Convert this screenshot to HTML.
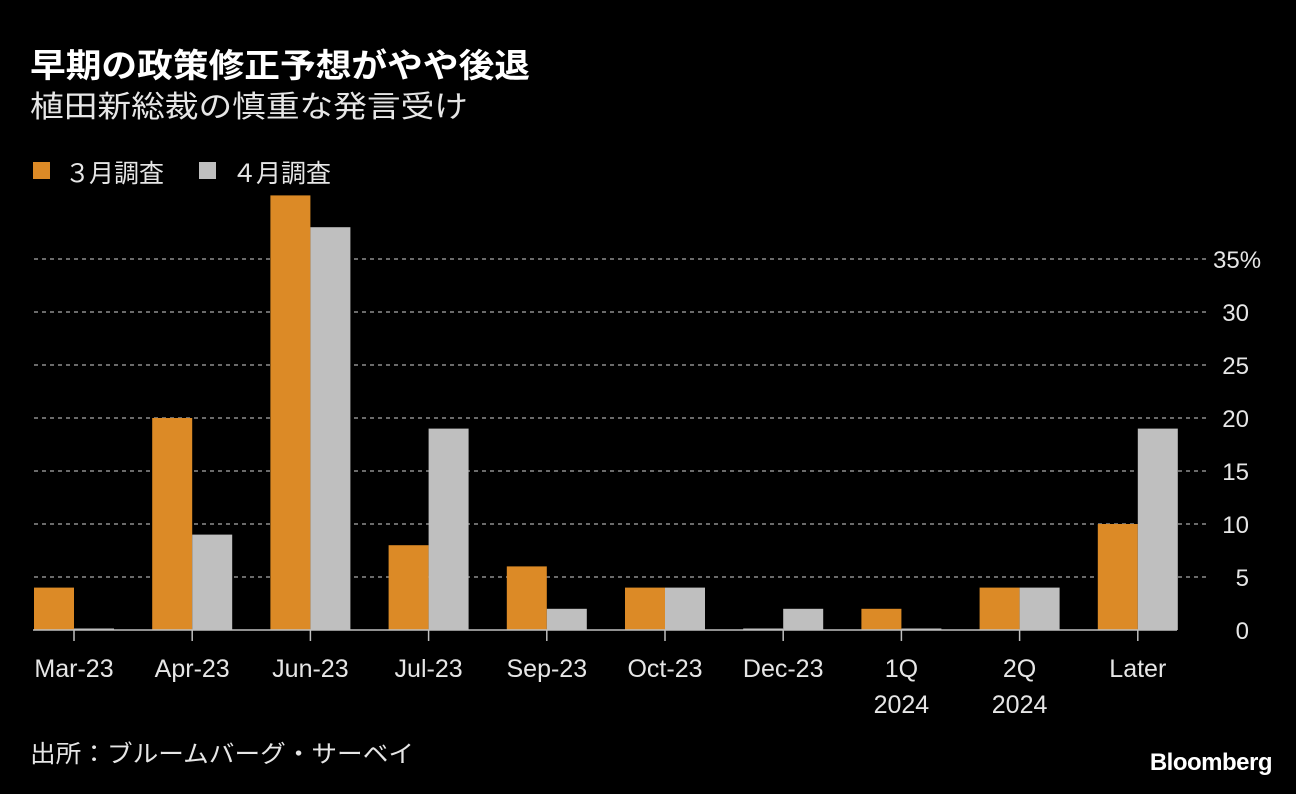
<!DOCTYPE html>
<html><head><meta charset="utf-8"><style>
html,body{margin:0;padding:0;background:#000;width:1296px;height:794px;overflow:hidden}
svg{display:block;font-family:"Liberation Sans","Noto Sans CJK JP",sans-serif}
</style></head><body>
<svg id="chart" width="1296" height="794" viewBox="0 0 1296 794">
<text x="30" y="77" fill="#fff" font-size="33" font-weight="bold" textLength="500" lengthAdjust="spacingAndGlyphs">早期の政策修正予想がやや後退</text>
<text x="30" y="117" fill="#e6e6e6" font-size="30" textLength="438" lengthAdjust="spacingAndGlyphs">植田新総裁の慎重な発言受け</text>
<g>
<rect x="33" y="162" width="17" height="17" fill="#dc8a26"/>
<text x="65" y="182" fill="#e6e6e6" font-size="25">３<tspan x="89">月調査</tspan></text>
<rect x="199" y="162" width="17" height="17" fill="#bfbfbf"/>
<text x="232" y="182" fill="#e6e6e6" font-size="25">４<tspan x="256">月調査</tspan></text>
</g>
<g id="grid"></g><g id="bars"></g><g id="axis"></g>
<text x="30" y="762" fill="#e6e6e6" font-size="24" textLength="384" lengthAdjust="spacingAndGlyphs">出所：ブルームバーグ・サーベイ</text>
<text x="1272" y="770" fill="#fff" font-size="24" font-weight="bold" text-anchor="end" letter-spacing="-0.5">Bloomberg</text>
</svg>
<script>
const categories=[["Mar-23"],["Apr-23"],["Jun-23"],["Jul-23"],["Sep-23"],["Oct-23"],["Dec-23"],["1Q","2024"],["2Q","2024"],["Later"]];
const marchValues=[4,20,41,8,6,4,0,2,4,10];
const aprilValues=[0,9,38,19,2,4,2,0,4,19];
const yTicks=[0,5,10,15,20,25,30,35];
const NS="http://www.w3.org/2000/svg";
const y0=630,unit=10.6,x0=74,step=118.2,bw=40;
const y=v=>y0-v*unit;
const xc=i=>x0+i*step;
function mk(tag,attrs,parent){const e=document.createElementNS(NS,tag);for(const k in attrs)e.setAttribute(k,attrs[k]);document.getElementById(parent).appendChild(e);return e;}
yTicks.forEach(t=>{
 if(t>0){const l=mk('line',{x1:34,x2:1207,y1:y(t),y2:y(t),stroke:'#6a6a6a','stroke-width':2,'stroke-dasharray':'4 4'},'grid');
 
 }
 const tx=mk('text',{x:t===35?1213:1249,y:y(t)+9,fill:'#e6e6e6','font-size':24,'text-anchor':t===35?'start':'end'},'grid');
 tx.textContent=t===35?'35%':String(t);
 
 
});
categories.forEach((c,i)=>{
 const xm=xc(i);
 const hm=Math.max(marchValues[i]*unit,1.5),ha=Math.max(aprilValues[i]*unit,1.5);
 const b1=mk('rect',{x:xm-bw,y:y0-hm,width:bw,height:hm,fill:marchValues[i]?'#dc8a26':'#bfbfbf'},'bars');
 
 
 const b2=mk('rect',{x:xm,y:y0-ha,width:bw,height:ha,fill:'#bfbfbf'},'bars');
 
 
 const tk=mk('line',{x1:xm,x2:xm,y1:y0,y2:y0+11,stroke:'#bfbfbf','stroke-width':1.5},'axis');
 
 
 c.forEach((s,j)=>{const tx=mk('text',{x:xm,y:677+j*36,fill:'#e6e6e6','font-size':25,'text-anchor':'middle'},'axis');
 tx.textContent=s;
 
 });
});
const bl=mk('line',{x1:33,x2:1177,y1:y0,y2:y0,stroke:'#bfbfbf','stroke-width':1.5},'axis');


</script>
</body></html>
